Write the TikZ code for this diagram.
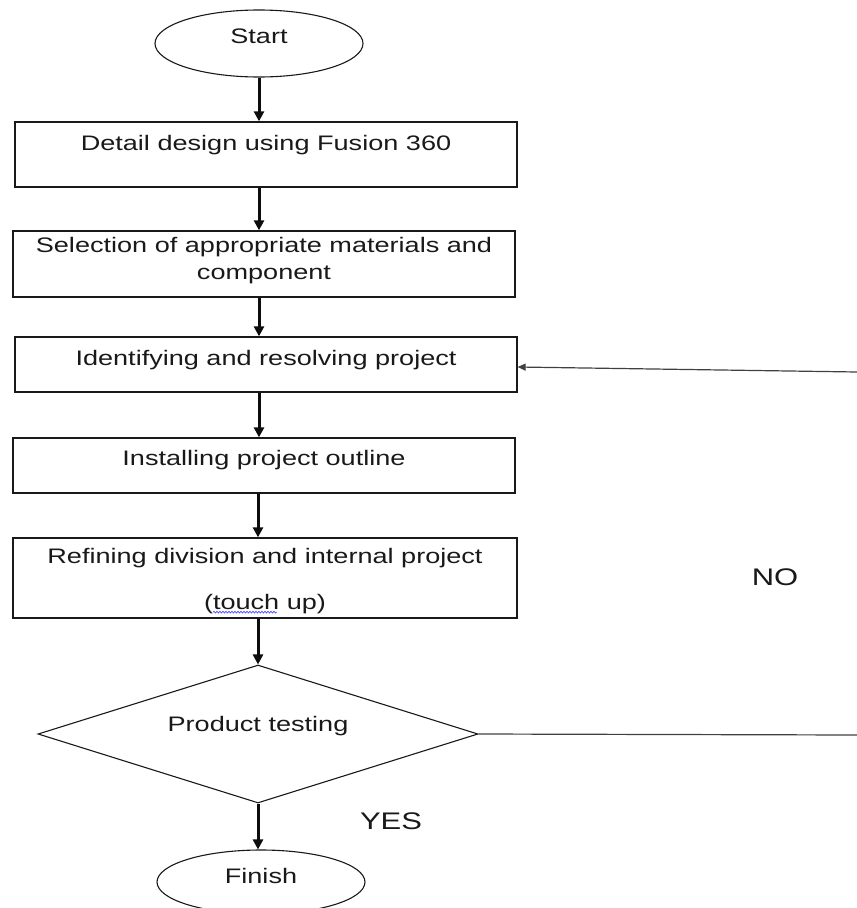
\documentclass[tikz,border=0pt]{standalone}
\usepackage{fontspec}
\setmainfont{Liberation Sans}[FakeStretch=1.29]
\usetikzlibrary{shapes.geometric,arrows.meta,decorations.pathmorphing,calc}
\begin{document}
\begin{tikzpicture}[x=1pt,y=-1pt,
  box/.style={draw=black!90, line width=1.3pt, rectangle, minimum width=502pt, inner sep=0pt},
  term/.style={draw=black!90, line width=1.1pt, ellipse, minimum width=208pt, inner sep=0pt},
  dec/.style={draw=black!90, line width=1.1pt, diamond, aspect=3.19, minimum width=440pt, minimum height=138pt, inner sep=0pt},
  txt/.style={font=\fontsize{21}{27}\selectfont, text height=15pt, text depth=5pt, inner sep=0pt, text=black!90},
  mtxt/.style={font=\fontsize{21}{27}\selectfont, align=center, inner sep=0pt, text=black!90},
  lab/.style={font=\fontsize{24}{28}\selectfont, inner sep=0pt, text=black!90},
  arr/.style={line width=3pt, draw=black!95, -{Triangle[length=10pt,width=10pt]}},
  fb/.style={line width=1.2pt, draw=black!75}]
\useasboundingbox (0,0) rectangle (857,908);
\clip (0,0) rectangle (857,908);

\node[term, minimum height=67pt, label={[txt,name=startT,yshift=5pt]center:Start}] (start) at (259,43.5) {};
\node[box, minimum height=65pt, label={[txt,name=b1T,yshift=9pt]center:Detail design using Fusion 360}] (b1) at (266,154.5) {};
\node[box, minimum height=66pt, label={[mtxt,name=b2T,yshift=3.3pt]center:Selection of appropriate materials and\\component}] (b2) at (264,264) {};
\node[box, minimum height=55pt, label={[txt,name=b3T,yshift=4pt]center:Identifying and resolving project}] (b3) at (266,364.5) {};
\node[box, minimum height=55pt, label={[txt,name=b4T,yshift=5pt]center:Installing project outline}] (b4) at (264,465.5) {};
\node[box, minimum width=504pt, minimum height=80pt, label={[mtxt,name=b5T,yshift=-3.2pt]center:Refining division and internal project\\[19pt](touch up)}] (b5) at (265,578) {};
\node[dec, label={[txt,name=dT,yshift=7.5pt]center:Product testing}] (d) at (258,734) {};
\node[term, minimum height=64pt, label={[txt,name=finT,yshift=3.5pt]center:Finish}] (fin) at (261,882) {};

\node[lab, anchor=base] (no) at (775,585.6) {NO};
\node[lab, anchor=base] (yes) at (391,829.6) {YES};

\draw[arr] (start.south) -- (start.south |- b1.north);
\draw[arr] (b1.south -| start.south) -- (b2.north -| start.south);
\draw[arr] (b2.south -| start.south) -- (b3.north -| start.south);
\draw[arr] (b3.south -| start.south) -- (b4.north -| start.south);
\draw[arr] (b4.south -| d.north) -- (b5.north -| d.north);
\draw[arr] (b5.south -| d.north) -- (d.north);
\draw[arr] (d.south) -- (d.south |- fin.north);

\coordinate (r1) at (857,735);
\coordinate (r2) at (857,372);
\draw[fb] (d.east) -- (r1);
\draw[fb, -{Triangle[length=8pt,width=7pt]}] (r2) -- ([yshift=-2.5pt]b3.east);

\draw[blue!80, line width=0.6pt, decorate, decoration={snake, amplitude=0.9pt, segment length=3pt}]
  ($(b5T.south)+(-52,-2)$) -- ($(b5T.south)+(12,-2)$);
\end{tikzpicture}
\end{document}
